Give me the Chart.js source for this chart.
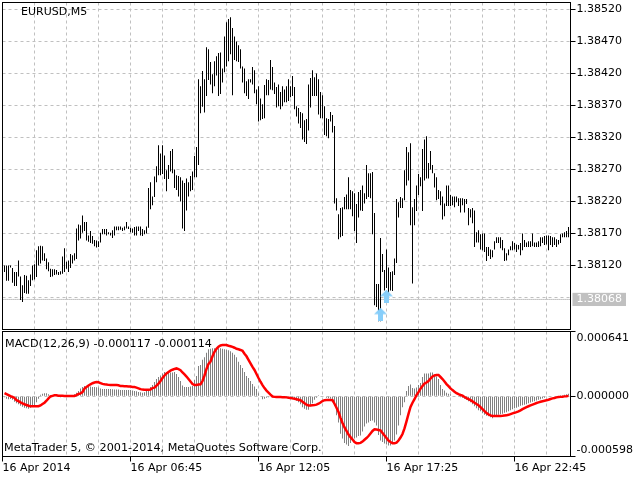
<!DOCTYPE html>
<html>
<head>
<meta charset="utf-8">
<style>
body { margin: 0; background: #fff; }
canvas { position: absolute; left: 0; }
</style>
<script src="https://cdn.jsdelivr.net/npm/chart.js@4/dist/chart.umd.min.js"></script>
</head>
<body>
<canvas id="priceChart" width="640" height="330" style="top:0"></canvas>
<canvas id="macdChart" width="640" height="150" style="top:330px"></canvas>
<script>
// bar highs and lows, in points above 1.38000
const highPoints = [
  120,120,120,120,116,110,110,128,103,89,
  105,104,97,106,120,122,144,150,151,150,
  139,131,125,115,114,114,113,110,111,134,
  147,126,128,138,136,139,178,184,183,198,
  188,188,167,174,166,160,159,158,171,177,
  177,177,172,171,175,181,181,181,181,179,
  181,188,181,179,178,180,181,181,181,177,
  175,181,241,250,228,259,275,308,295,308,
  292,269,277,299,302,270,261,260,258,253,
  249,256,250,260,267,291,305,411,400,424,
  411,461,458,438,419,439,447,452,453,428,
  478,500,505,508,491,478,470,464,458,431,
  428,408,411,411,430,425,395,400,381,372,
  402,411,410,441,430,406,399,403,391,400,
  395,400,411,400,416,399,369,366,360,358,
  347,349,403,413,425,414,420,411,391,386,
  369,350,349,360,355,338,225,200,210,211,
  227,231,258,238,236,233,216,235,238,245,
  233,277,264,264,266,202,91,91,163,138,
  113,145,117,110,111,131,224,219,227,225,
  269,305,297,311,211,224,245,263,258,302,
  317,322,280,299,277,264,258,238,236,228,
  217,245,245,230,228,228,228,225,225,225,
  224,224,210,208,210,206,172,175,169,170,
  170,149,149,145,144,158,164,164,164,160,
  147,139,145,150,158,155,153,152,155,170,
  160,156,158,158,170,156,156,158,164,164,
  166,167,167,166,164,164,161,160,169,170,172,174,180
];
const lowPoints = [
  110,96,96,117,93,88,88,103,66,63,
  77,76,76,88,97,98,102,120,123,128,
  127,114,111,102,103,105,106,105,106,107,
  110,115,110,116,123,128,130,159,162,171,
  174,159,157,155,154,150,148,149,156,169,
  169,167,169,167,163,167,175,175,176,174,
  175,178,177,172,171,167,167,174,167,166,
  169,170,179,208,214,227,250,261,261,263,
  255,236,255,267,264,241,238,228,220,178,
  174,206,228,236,238,258,258,277,358,368,
  359,385,410,403,389,400,417,385,388,406,
  422,431,439,450,386,441,439,438,428,406,
  389,385,380,406,403,389,372,345,347,349,
  350,386,386,395,394,388,367,369,364,369,
  375,375,377,383,385,364,353,342,335,317,
  313,310,331,367,385,385,385,356,350,350,
  324,322,319,345,328,217,206,161,164,166,
  208,208,208,208,197,174,155,195,206,205,
  217,224,227,225,169,58,55,33,33,110,
  81,85,69,81,80,105,124,195,210,210,
  222,245,253,183,92,183,205,230,244,205,
  253,256,256,270,264,242,222,224,214,192,
  197,213,213,213,214,211,219,213,203,214,
  203,216,183,195,186,149,156,156,145,144,
  141,127,135,130,133,145,155,155,147,144,
  127,128,136,144,144,145,141,145,136,144,
  149,149,149,149,150,149,149,149,150,155,
  152,153,144,152,149,152,149,153,155,164,164,164,164
];
// MACD histogram and signal line, in millionths
const macdMain = [
  -10,-25,-30,-28,-35,-55,-70,-80,-95,-105,
  -115,-120,-125,-115,-105,-90,-60,-25,15,25,
  30,30,20,5,0,-5,-5,-8,-10,-5,
  -5,-3,0,5,10,20,35,50,75,90,
  100,100,98,95,92,90,88,85,75,72,
  70,72,72,70,68,65,65,65,62,62,
  62,62,62,60,55,52,48,42,38,35,
  38,50,70,90,110,140,170,190,205,225,
  240,240,235,235,235,240,220,190,150,105,
  90,90,92,95,100,160,200,300,310,360,
  385,430,465,470,475,475,475,475,475,470,
  465,460,455,445,430,410,385,340,310,280,
  240,200,180,150,120,95,70,30,-5,-30,
  -25,-15,-10,-5,0,5,-5,-8,-10,-12,
  -15,-10,-15,-25,-30,-35,-45,-60,-80,-110,
  -125,-135,-135,-100,-70,-35,-15,10,5,5,
  -5,-15,-20,-25,-60,-95,-190,-260,-373,-420,
  -465,-480,-495,-465,-445,-420,-410,-395,-390,-350,
  -300,-270,-260,-245,-240,-260,-290,-385,-440,-455,
  -470,-480,-490,-490,-470,-440,-380,-290,-190,-110,
  -60,50,100,115,80,75,85,110,130,190,
  225,225,225,235,235,215,195,170,110,70,
  55,35,25,20,5,0,-5,-8,-10,-15,
  -25,-35,-50,-60,-80,-100,-120,-140,-150,-170,
  -185,-195,-200,-210,-220,-205,-190,-185,-180,-175,
  -165,-160,-150,-140,-130,-120,-115,-105,-95,-90,
  -85,-80,-70,-62,-55,-50,-42,-35,-30,-22,
  -15,-10,-5,-5,0,0,5,5,10,10,
  15,20,25
];
const macdSignal = [
  30,20,10,0,-8,-18,-40,-50,-62,-72,
  -80,-88,-95,-100,-100,-100,-100,-100,-92,-78,
  -65,-45,-22,-3,3,8,8,5,3,3,
  2,2,2,2,2,2,10,22,28,40,
  75,92,105,118,128,135,140,138,130,122,
  118,115,112,110,110,110,110,108,100,100,
  98,98,97,95,92,90,85,78,70,65,
  63,63,63,65,80,85,105,125,150,180,
  205,225,240,253,262,270,275,268,258,235,
  215,195,170,145,120,110,110,115,118,150,
  205,270,320,343,395,440,470,490,503,506,
  506,506,500,495,488,480,470,465,458,450,
  420,395,360,325,290,260,220,180,143,110,
  80,55,35,15,-3,-7,-8,-9,-9,-10,
  -10,-12,-15,-18,-22,-26,-30,-35,-40,-55,
  -70,-85,-92,-92,-90,-88,-84,-75,-62,-48,
  -40,-38,-38,-38,-40,-75,-115,-157,-215,-265,
  -310,-345,-380,-406,-430,-455,-466,-466,-463,-450,
  -432,-415,-395,-370,-345,-328,-330,-335,-340,-365,
  -390,-415,-440,-455,-466,-466,-460,-440,-410,-375,
  -320,-250,-175,-107,-65,-30,10,40,75,100,
  125,135,150,175,195,205,210,210,190,170,
  145,120,100,77,60,45,30,20,12,5,
  -8,-20,-30,-40,-52,-65,-78,-90,-108,-128,
  -148,-168,-180,-190,-197,-197,-197,-197,-196,-195,
  -192,-190,-185,-178,-170,-165,-158,-150,-140,-128,
  -118,-108,-100,-92,-84,-76,-68,-62,-56,-50,
  -45,-40,-35,-28,-22,-18,-12,-9,-7,-5,
  -2,0,3
];
const priceTicks = [1.3852, 1.3847, 1.3842, 1.3837, 1.3832, 1.3827, 1.3822, 1.3817, 1.3812, 1.3807];
const priceTickLabels = ['1.38520', '1.38470', '1.38420', '1.38370', '1.38320', '1.38270', '1.38220', '1.38170', '1.38120', ''];
const currentPrice = 1.38067;
const currentPriceLabel = '1.38068';
const arrowBars = [189, 192];
const arrowPoints = [44, 72];
const macdTicks = [0.000641, 0, -0.000598];
const macdTickLabels = [['', '0.000641'], '0.000000', ['-0.000598', '']];
const timeLabels = ['16 Apr 2014', '16 Apr 06:45', '16 Apr 12:05', '16 Apr 17:25', '16 Apr 22:45'];

const barCount = 285;
const slots = Array.from({ length: barCount }, (_, i) => i);
const toPrice = p => 1.38 + p / 100000;
const font = { family: 'DejaVu Sans', size: 11 };
const gridGrey = '#c0c0c0';

const priceBars = [null, ...highPoints.map((h, i) => [toPrice(lowPoints[i]), toPrice(h)])];
const arrowData = slots.map(i => {
  const k = arrowBars.indexOf(i);
  return k < 0 ? null : toPrice(arrowPoints[k]);
});

// MT5 style up arrow
const arrowIcon = document.createElement('canvas');
arrowIcon.width = 13;
arrowIcon.height = 13;
{
  const c = arrowIcon.getContext('2d');
  c.fillStyle = '#87cefa';
  c.beginPath();
  c.moveTo(6.5, 0);
  c.lineTo(13, 6.5);
  c.lineTo(9, 6.5);
  c.lineTo(9, 13);
  c.lineTo(4, 13);
  c.lineTo(4, 6.5);
  c.lineTo(0, 6.5);
  c.closePath();
  c.fill();
}

const frame = (texts, size) => ({
  id: 'frame',
  afterDraw(chart) {
    const { ctx, chartArea: a } = chart;
    ctx.save();
    ctx.strokeStyle = '#000';
    ctx.lineWidth = 1;
    ctx.strokeRect(a.left, a.top, a.right - a.left, a.bottom - a.top);
    ctx.fillStyle = '#000';
    ctx.font = size + 'px "DejaVu Sans"';
    texts.forEach(t => ctx.fillText(t.text, t.x, t.y));
    ctx.restore();
  }
});

// the axis labels must not widen the margins, the panels are placed by hand
const noMargins = s => {
  s.paddingLeft = 0;
  s.paddingRight = 0;
  s.paddingTop = 0;
  s.paddingBottom = 0;
};

const xGrid = {
  offset: false,
  color: c => (c.tick?.value === 0 ? 'transparent' : gridGrey),
  lineWidth: 1
};

new Chart(document.getElementById('priceChart'), {
  type: 'bar',
  data: {
    labels: slots,
    datasets: [
      { type: 'line', data: arrowData, showLine: false, pointStyle: arrowIcon, pointRadius: 7, order: 0 },
      { data: priceBars, backgroundColor: '#000', barThickness: 1, inflateAmount: 0, order: 1 },
      { type: 'line', data: slots.map(() => currentPrice), borderColor: gridGrey, borderWidth: 1, pointRadius: 0, order: 2 }
    ]
  },
  options: {
    responsive: false,
    animation: false,
    events: [],
    layout: { autoPadding: false, padding: { left: 2.5, top: 2.5, right: 0, bottom: 0.5 } },
    plugins: { legend: { display: false }, tooltip: { enabled: false } },
    scales: {
      x: {
        offset: false,
        afterBuildTicks: s => { s.ticks = s.ticks.filter(t => t.value % 16 === 0); },
        afterFit: s => { noMargins(s); s.height = 0; },
        ticks: { display: false, autoSkip: false },
        grid: { ...xGrid, drawTicks: false },
        border: { display: false, dash: [3, 3] }
      },
      y: {
        position: 'right',
        min: 1.3802,
        max: 1.385309375,
        afterBuildTicks: s => { s.ticks = [...priceTicks, currentPrice].map(value => ({ value })); },
        afterFit: s => { noMargins(s); s.width = 69.5; },
        ticks: {
          autoSkip: false,
          font,
          padding: 1,
          color: c => (c.tick?.value === currentPrice ? '#fff' : '#000'),
          callback: v => (v === currentPrice ? currentPriceLabel : priceTickLabels[priceTicks.indexOf(v)]),
          showLabelBackdrop: c => c.tick?.value === currentPrice,
          backdropColor: '#c0c0c0',
          backdropPadding: { left: 4, right: 4, top: 0, bottom: 0 }
        },
        grid: {
          color: c => (c.tick?.value === currentPrice ? 'transparent' : gridGrey),
          tickColor: c => (c.tick?.value === currentPrice || c.tick?.value === 1.3807 ? 'transparent' : '#000'),
          tickLength: 5,
          tickBorderDash: []
        },
        border: { display: false, dash: [3, 3] }
      }
    }
  },
  plugins: [frame([{ text: 'EURUSD,M5', x: 21, y: 15 }], 11)]
});

new Chart(document.getElementById('macdChart'), {
  type: 'bar',
  data: {
    labels: slots,
    datasets: [
      { type: 'line', data: [null, ...macdSignal.map(v => v / 1e6)], borderColor: '#ff0000', borderWidth: 2.5, pointRadius: 0, order: 0 },
      { data: [null, ...macdMain.map(v => v / 1e6)], backgroundColor: '#808080', barThickness: 1, inflateAmount: 0, order: 1 }
    ]
  },
  options: {
    responsive: false,
    animation: false,
    events: [],
    layout: { autoPadding: false, padding: { left: 2.5, top: 1.5, right: 0, bottom: 0 } },
    plugins: { legend: { display: false }, tooltip: { enabled: false } },
    scales: {
      x: {
        offset: false,
        afterBuildTicks: s => { s.ticks = s.ticks.filter(t => t.value % 16 === 0); },
        afterFit: s => { noMargins(s); s.height = 23.5; },
        ticks: {
          autoSkip: false,
          maxRotation: 0,
          align: 'start',
          font,
          color: '#000',
          padding: 0,
          callback: v => (v % 64 === 0 ? timeLabels[v / 64] : '')
        },
        grid: {
          ...xGrid,
          tickColor: c => (c.tick?.value % 64 === 0 ? '#000' : 'transparent'),
          tickLength: 5,
          tickBorderDash: []
        },
        border: { display: false, dash: [3, 3] }
      },
      y: {
        position: 'right',
        min: -0.000598,
        max: 0.000641,
        afterBuildTicks: s => { s.ticks = macdTicks.map(value => ({ value })); },
        afterFit: s => { noMargins(s); s.width = 69.5; },
        ticks: {
          autoSkip: false,
          font,
          padding: 1,
          color: '#000',
          callback: v => macdTickLabels[macdTicks.indexOf(v)]
        },
        grid: {
          color: c => (c.tick?.value === 0 ? gridGrey : 'transparent'),
          tickColor: '#000',
          tickLength: 5,
          tickBorderDash: []
        },
        border: { display: false, dash: [3, 3] }
      }
    }
  },
  plugins: [frame([
    { text: 'MACD(12,26,9) -0.000117 -0.000114', x: 5, y: 17 },
    { text: 'MetaTrader 5, \u00a9 2001-2014, MetaQuotes Software Corp.', x: 4, y: 121 }
  ], 11.2)]
});
</script>
</body>
</html>
